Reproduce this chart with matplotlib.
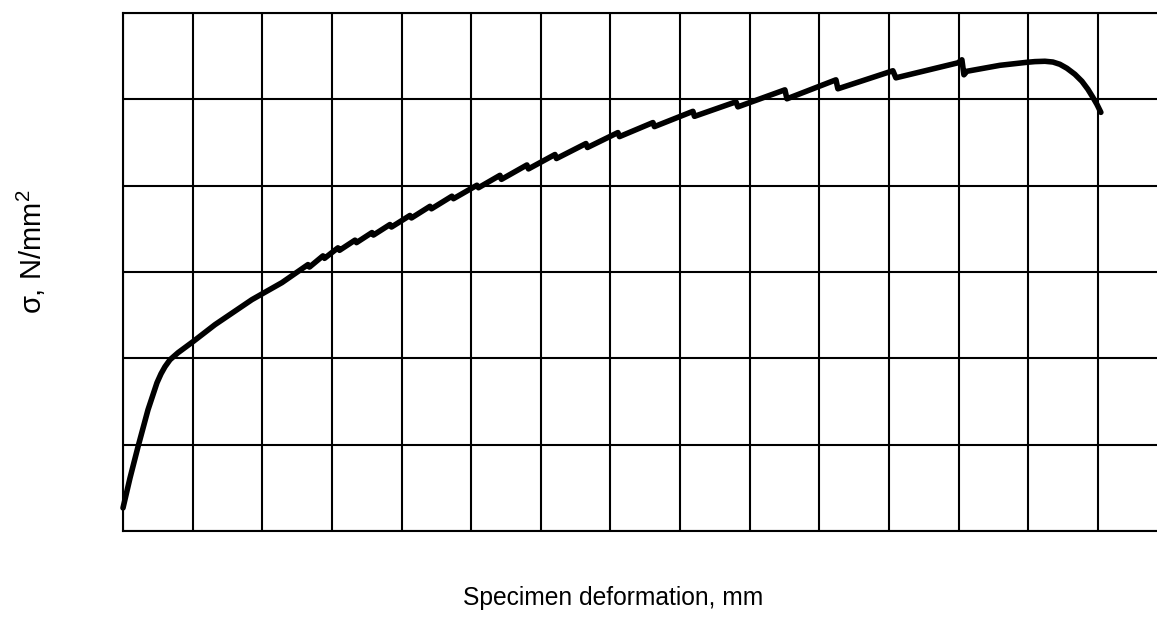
import matplotlib
matplotlib.use("Agg")
import matplotlib.pyplot as plt

# Specimen deformation (grid cells) and stress (grid cells)
strain = [0.000, 0.101, 0.215, 0.359, 0.488, 0.546, 0.603, 0.675, 0.790, 1.005, 1.321, 1.852, 2.283,
          2.657, 2.678, 2.872, 2.894, 3.087, 3.109, 3.332, 3.353, 3.576, 3.597, 3.834, 3.856,
          4.121, 4.143, 4.409, 4.430, 4.724, 4.746, 5.083, 5.105,
          5.414, 5.435, 5.801, 5.823, 6.204, 6.225, 6.649, 6.670, 7.108, 7.130, 7.611, 7.632,
          8.185, 8.207,
          8.803, 8.831, 9.506, 9.535, 10.239, 10.267, 11.057, 11.100, 11.991, 12.048, 12.077, 12.120,
          12.594, 12.982, 13.096, 13.240, 13.355, 13.455, 13.556, 13.671, 13.772, 13.858, 13.929,
          13.987, 14.044]
stress = [0.267, 0.615, 0.974, 1.404, 1.717, 1.821, 1.903, 1.984, 2.065, 2.193, 2.390, 2.680, 2.877,
          3.086, 3.057, 3.187, 3.158, 3.280, 3.251, 3.369, 3.340, 3.457, 3.428, 3.550, 3.521,
          3.655, 3.626, 3.761, 3.732, 3.878, 3.849, 4.005, 3.976,
          4.120, 4.073, 4.240, 4.194, 4.361, 4.314, 4.488, 4.442, 4.615, 4.568, 4.731, 4.684,
          4.861, 4.803,
          4.971, 4.913, 5.110, 5.006, 5.226, 5.122, 5.331, 5.249, 5.423, 5.458, 5.284, 5.325,
          5.394, 5.429, 5.437, 5.441, 5.432, 5.406, 5.360, 5.290, 5.209, 5.116, 5.023,
          4.942, 4.849]

x_grid = list(range(0, 15))
y_grid = list(range(0, 7))
x_label = "Specimen deformation, mm"
y_label = r"σ, N/mm$^2$"

plt.rcParams["mathtext.fontset"] = "custom"
plt.rcParams["mathtext.rm"] = "Liberation Sans"
plt.rcParams["mathtext.it"] = "Liberation Sans"

fig = plt.figure(figsize=(11.57, 6.24), dpi=100)
ax = fig.add_axes([123 / 1157, 93 / 624, 1034 / 1157, 518 / 624])
ax.set_xlim(0, 14.85)
ax.set_ylim(0, 6)
ax.set_xticks(x_grid)
ax.set_yticks(y_grid)
ax.tick_params(length=0, labelbottom=False, labelleft=False)
ax.grid(True, color="black", linewidth=1.5)
ax.set_axisbelow(True)
for side in ["top", "left", "bottom"]:
    ax.spines[side].set_linewidth(1.5)
    ax.spines[side].set_color("black")
ax.spines["right"].set_visible(False)

ax.plot(strain, stress, color="black", linewidth=4.0,
        solid_joinstyle="round", solid_capstyle="round", clip_on=False)

fig.text(613 / 1157, 1 - 598 / 624, x_label, ha="center", va="center",
         fontsize=17.7, family=["Liberation Sans", "DejaVu Sans"])
fig.text(31 / 1157, 1 - 252 / 624, y_label, ha="center", va="center",
         rotation=90, fontsize=21, family=["Liberation Sans", "DejaVu Sans"])

fig.savefig("out.png", dpi=100)
